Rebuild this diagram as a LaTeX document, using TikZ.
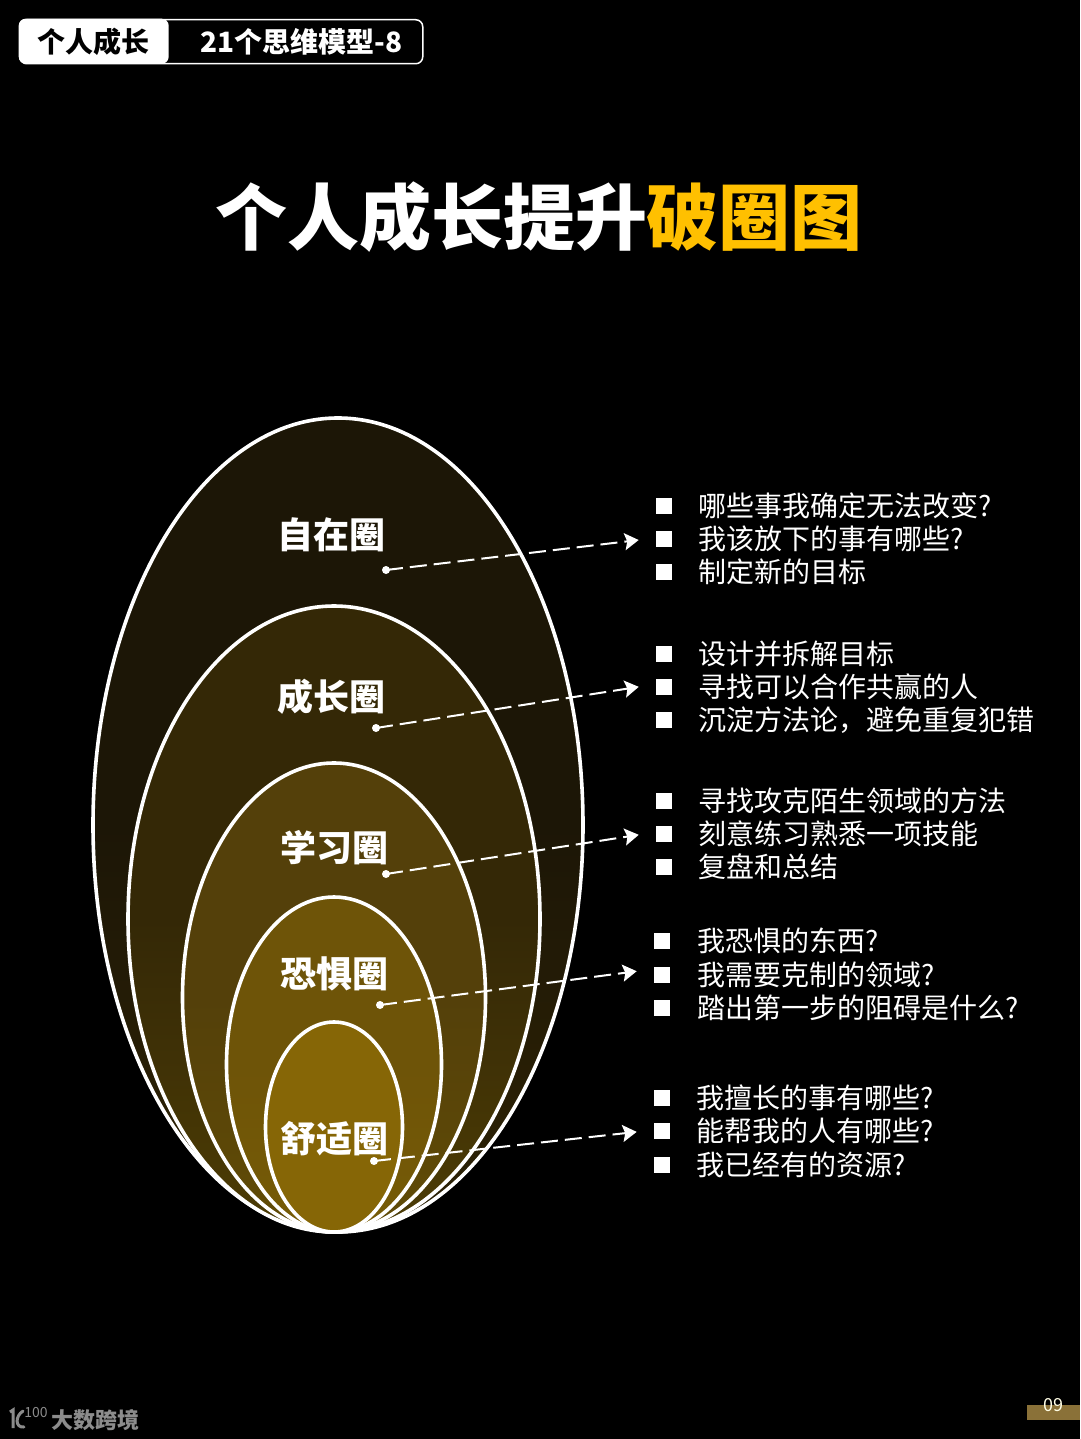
\documentclass[tikz,border=0pt]{standalone}
\usepackage{fontspec}
\setmainfont{Noto Sans CJK SC}
\usetikzlibrary{arrows.meta,positioning,shapes.geometric}
\definecolor{title}{HTML}{FFC000}
\definecolor{pagebar}{HTML}{8A7138}
\definecolor{logogray}{HTML}{8C8C8C}
\pgfdeclareverticalshading{ringa}{100bp}{rgb(0bp)=(.165,.125,.02); rgb(32bp)=(.165,.125,.02); rgb(50bp)=(.11,.086,.024); rgb(100bp)=(.11,.086,.024)}
\pgfdeclareverticalshading{ringb}{100bp}{rgb(0bp)=(.29,.227,.02); rgb(28bp)=(.29,.227,.02); rgb(50bp)=(.204,.157,.024); rgb(100bp)=(.204,.157,.024)}
\pgfdeclareverticalshading{ringc}{100bp}{rgb(0bp)=(.373,.29,.024); rgb(28bp)=(.373,.29,.024); rgb(50bp)=(.329,.251,.039); rgb(100bp)=(.329,.251,.039)}
\pgfdeclareverticalshading{ringd}{100bp}{rgb(0bp)=(.459,.353,.024); rgb(28bp)=(.459,.353,.024); rgb(50bp)=(.431,.329,.031); rgb(100bp)=(.431,.329,.031)}
\pgfdeclareverticalshading{ringe}{100bp}{rgb(0bp)=(.525,.4,.024); rgb(100bp)=(.525,.4,.024)}
\tikzset{
  ring/.style={ellipse, draw=white, line width=3.6pt, inner sep=0pt, shade},
  ringlbl/.style={font=\fontsize{36}{36}\selectfont\bfseries, text=white, inner sep=0pt},
  dot/.style={circle, fill=white, minimum size=8pt, inner sep=0pt},
  bullet/.style={rectangle, fill=white, minimum size=16.5pt, inner sep=0pt},
  item/.style={anchor=west, font=\fontsize{28}{28}\selectfont, text=white, inner sep=0pt,
               text height=24.6pt, text depth=3.4pt},
  ar/.style={-{Stealth[length=14pt,width=17pt,inset=2.5pt]}, white, line width=2pt, dash pattern=on 17pt off 7pt}
}
\begin{document}
\begin{tikzpicture}[x=1pt,y=-1pt]
  \useasboundingbox[fill=black] (0,0) rectangle (1080,1439);

  % header
  \node[draw=white, line width=1.5pt, rounded corners=7pt, minimum width=403pt, minimum height=44pt,
        anchor=north west, inner sep=0pt] (tagbox) at (19,19) {};
  \node[fill=white, rounded corners=7pt, minimum width=150pt, minimum height=45pt,
        anchor=north west, inner sep=0pt] (tagfill) at (18.5,18.5) {};
  \node[font=\fontsize{28}{28}\selectfont\bfseries, text=black, inner sep=0pt] (tag) at (93.5,41.5) {个人成长};
  \node[font=\fontsize{28}{28}\selectfont\bfseries, text=white, inner sep=0pt] (tagname) at (301.5,41.5) {21个思维模型-8};

  % title
  \node[font=\fontsize{72}{72}\selectfont\bfseries, text=white, inner sep=0pt, anchor=west] (titlea) at (215,217) {个人成长提升};
  \node[font=\fontsize{72}{72}\selectfont\bfseries, text=title, inner sep=0pt, anchor=west] (titleb) at (646.5,217) {破圈图};

  % rings
  \foreach \n/\cx/\cy/\w/\h in {
    a/338/825/490/814,
    b/334/919/412/626,
    c/334/997.5/303/469,
    d/334/1064.5/215/335,
    e/334/1127/137/210} {
    \node[ring, shading=ring\n, minimum width=\w pt, minimum height=\h pt] (ring\n) at (\cx,\cy) {};
  }

  % ring labels and dots
  \foreach \n/\x/\y/\dx/\dy/\t in {
    a/331/535/386/570/自在圈,
    b/331/697/376/728/成长圈,
    c/334/848/386/874/学习圈,
    d/334/974/380/1005/恐惧圈,
    e/334/1139/374/1161/舒适圈} {
    \node[ringlbl] (lbl\n) at (\x,\y) {\t};
    \node[dot] (dot\n) at (\dx,\dy) {};
  }

  % lists
  \foreach \n/\bx/\tx/\ya/\yb/\yc/\up/\ta/\tb/\tc in {
    a/664/698/506/539/572/1/{哪些事我确定无法改变?}/{我该放下的事有哪些?}/{制定新的目标},
    b/664/698/654/687/720/2.8/{设计并拆解目标}/{寻找可以合作共赢的人}/{沉淀方法论^^^^ff0c避免重复犯错},
    c/664/698/801/834/867/1.8/{寻找攻克陌生领域的方法}/{刻意练习熟悉一项技能}/{复盘和总结},
    d/662/697/941/975/1008/6/{我恐惧的东西?}/{我需要克制的领域?}/{踏出第一步的阻碍是什么?},
    e/662/696/1098/1131/1165/1/{我擅长的事有哪些?}/{能帮我的人有哪些?}/{我已经有的资源?}} {
    \node[bullet] (bul\n1) at (\bx,\ya) {};
    \node[bullet] (bul\n2) at (\bx,\yb) {};
    \node[bullet] (bul\n3) at (\bx,\yc) {};
    \node[item] (item\n1) at (\tx,\ya) {\ta};
    \node[item] (item\n2) at (\tx,\yb) {\tb};
    \node[item] (item\n3) at (\tx,\yc) {\tc};
    \draw[ar, shorten >=17pt] (dot\n.center) -- ([yshift=\up pt]bul\n2.west);
  }

  % footer
  \node[fill=pagebar, minimum width=53pt, minimum height=15pt, inner sep=0pt, anchor=north west] (pagebg) at (1027,1405) {};
  \node[font=\fontsize{18}{18}\selectfont, text=white!90!yellow, inner sep=0pt] (pageno) at (1053,1405) {09};
  \node[font=\fontsize{22}{22}\selectfont\bfseries, text=logogray, inner sep=0pt, anchor=west] (brand) at (51.5,1420) {大数跨境};
  \node[font=\fontsize{14}{14}\selectfont, text=logogray, inner sep=0pt] (logonum) at (36,1412) {100};
  \draw[logogray, line width=3pt] (10,1412) -- (13,1410) -- (13,1428);
  \draw[logogray, line width=3pt, line cap=round] (23,1411) .. controls (15,1416) and (15,1428) .. (24,1427);
\end{tikzpicture}
\end{document}
